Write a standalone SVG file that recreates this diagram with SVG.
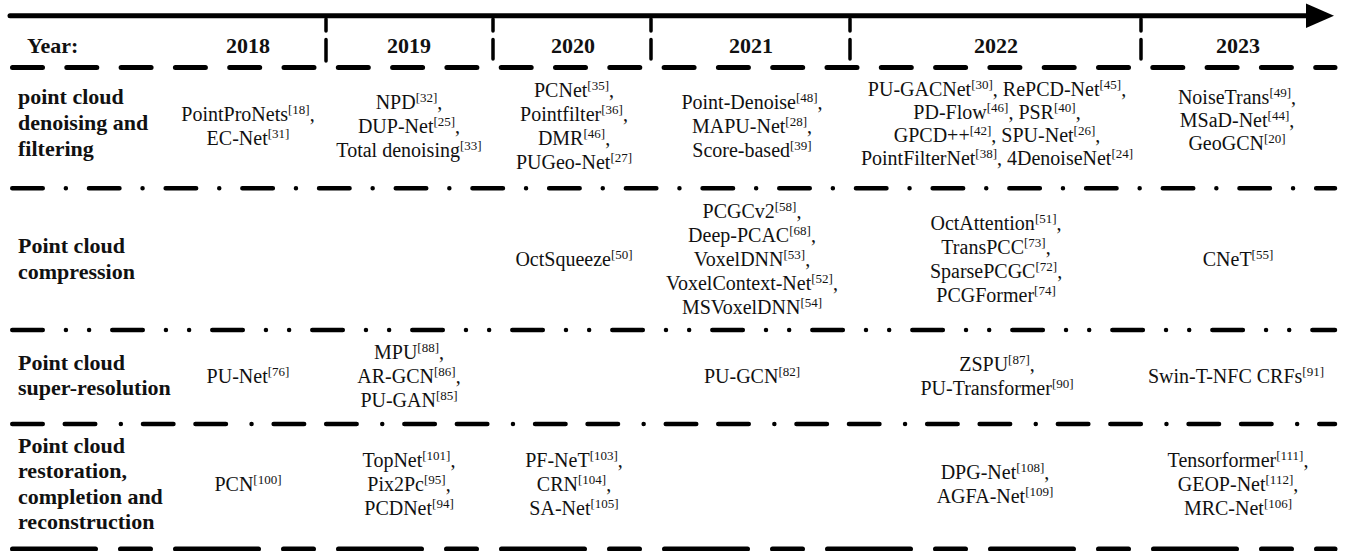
<svg xmlns="http://www.w3.org/2000/svg" width="1345" height="551" viewBox="0 0 1345 551">
<style>
.t{font-family:"Liberation Serif","Times New Roman",serif;font-size:20px;text-anchor:middle;fill:#111}
.b{font-family:"Liberation Serif","Times New Roman",serif;font-size:22px;font-weight:bold;fill:#111}
.y{text-anchor:middle}
.s{font-size:13px}
.ln{fill:none;stroke:#000;stroke-linecap:round}
</style>
<rect width="1345" height="551" fill="#fff"/>
<g id="grid">
<path class="ln" d="M10 15.8 H1310" stroke-width="5"/>
<polygon points="1306,3.5 1334,15.8 1306,28" fill="#000"/>
<g stroke-width="3.5" class="ln">
<path class="ln" d="M326 19 V31 M326 39.5 V61"/>
<path class="ln" d="M493 19 V31 M493 39.5 V59"/>
<path class="ln" d="M651 19 V31 M651 39.5 V59"/>
<path class="ln" d="M850 19 V31 M850 39.5 V59"/>
<path class="ln" d="M1141 19 V31 M1141 39.5 V59"/>
</g>
<path class="ln" d="M12.5 67.5 H1335" stroke-width="5" stroke-dasharray="30 24.3"/>
<path class="ln" d="M12.25 188.3 H1335" stroke-width="4.5" stroke-dasharray="30.5 23.1 0 23.1"/>
<path class="ln" d="M12.25 330 H1335" stroke-width="4.5" stroke-dasharray="30.5 23.17 0 23.17 0 23.17"/>
<path class="ln" d="M12.25 424 H1335" stroke-width="4.5" stroke-dasharray="30.5 22 30.5 25.6 0 22.1"/>
<path class="ln" d="M12.5 549 H1335" stroke-width="5" stroke-dasharray="83 25 30 25"/>
</g>
<g id="header">
<text class="b" x="27" y="53">Year:</text>
<text class="b y" x="248" y="53">2018</text>
<text class="b y" x="409" y="53">2019</text>
<text class="b y" x="573" y="53">2020</text>
<text class="b y" x="751" y="53">2021</text>
<text class="b y" x="996" y="53">2022</text>
<text class="b y" x="1238" y="53">2023</text>
</g>
<g id="label-denoising">
<text class="b" x="18" y="104">point cloud</text>
<text class="b" x="18" y="130">denoising and</text>
<text class="b" x="18" y="156">filtering</text>
</g>
<g id="label-compression">
<text class="b" x="18" y="253">Point cloud</text>
<text class="b" x="18" y="279">compression</text>
</g>
<g id="label-superres">
<text class="b" x="18" y="370">Point cloud</text>
<text class="b" x="18" y="395">super-resolution</text>
</g>
<g id="label-restoration">
<text class="b" x="18" y="453">Point cloud</text>
<text class="b" x="18" y="478">restoration,</text>
<text class="b" x="18" y="504">completion and</text>
<text class="b" x="18" y="529">reconstruction</text>
</g>
<g id="den-2018">
<text class="t" x="248" y="121">PointProNets<tspan class="s" dy="-7">[18]</tspan><tspan dy="7">,</tspan></text>
<text class="t" x="248" y="145">EC-Net<tspan class="s" dy="-7">[31]</tspan></text>
</g>
<g id="den-2019">
<text class="t" x="409" y="109">NPD<tspan class="s" dy="-7">[32]</tspan><tspan dy="7">,</tspan></text>
<text class="t" x="409" y="133">DUP-Net<tspan class="s" dy="-7">[25]</tspan><tspan dy="7">,</tspan></text>
<text class="t" x="409" y="157">Total denoising<tspan class="s" dy="-7">[33]</tspan></text>
</g>
<g id="den-2020">
<text class="t" x="574" y="97">PCNet<tspan class="s" dy="-7">[35]</tspan><tspan dy="7">,</tspan></text>
<text class="t" x="574" y="121">Pointfilter<tspan class="s" dy="-7">[36]</tspan><tspan dy="7">,</tspan></text>
<text class="t" x="574" y="145">DMR<tspan class="s" dy="-7">[46]</tspan><tspan dy="7">,</tspan></text>
<text class="t" x="574" y="169">PUGeo-Net<tspan class="s" dy="-7">[27]</tspan></text>
</g>
<g id="den-2021">
<text class="t" x="752" y="109">Point-Denoise<tspan class="s" dy="-7">[48]</tspan><tspan dy="7">,</tspan></text>
<text class="t" x="752" y="133">MAPU-Net<tspan class="s" dy="-7">[28]</tspan><tspan dy="7">,</tspan></text>
<text class="t" x="752" y="157">Score-based<tspan class="s" dy="-7">[39]</tspan></text>
</g>
<g id="den-2022">
<text class="t" x="997" y="96">PU-GACNet<tspan class="s" dy="-7">[30]</tspan><tspan dy="7">, RePCD-Net</tspan><tspan class="s" dy="-7">[45]</tspan><tspan dy="7">,</tspan></text>
<text class="t" x="997" y="119">PD-Flow<tspan class="s" dy="-7">[46]</tspan><tspan dy="7">, PSR</tspan><tspan class="s" dy="-7">[40]</tspan><tspan dy="7">,</tspan></text>
<text class="t" x="997" y="142">GPCD++<tspan class="s" dy="-7">[42]</tspan><tspan dy="7">, SPU-Net</tspan><tspan class="s" dy="-7">[26]</tspan><tspan dy="7">,</tspan></text>
<text class="t" x="997" y="165">PointFilterNet<tspan class="s" dy="-7">[38]</tspan><tspan dy="7">, 4DenoiseNet</tspan><tspan class="s" dy="-7">[24]</tspan></text>
</g>
<g id="den-2023">
<text class="t" x="1237" y="104">NoiseTrans<tspan class="s" dy="-7">[49]</tspan><tspan dy="7">,</tspan></text>
<text class="t" x="1237" y="127">MSaD-Net<tspan class="s" dy="-7">[44]</tspan><tspan dy="7">,</tspan></text>
<text class="t" x="1237" y="150">GeoGCN<tspan class="s" dy="-7">[20]</tspan></text>
</g>
<g id="com-2020">
<text class="t" x="574" y="266">OctSqueeze<tspan class="s" dy="-7">[50]</tspan></text>
</g>
<g id="com-2021">
<text class="t" x="752" y="218">PCGCv2<tspan class="s" dy="-7">[58]</tspan><tspan dy="7">,</tspan></text>
<text class="t" x="752" y="242">Deep-PCAC<tspan class="s" dy="-7">[68]</tspan><tspan dy="7">,</tspan></text>
<text class="t" x="752" y="266">VoxelDNN<tspan class="s" dy="-7">[53]</tspan><tspan dy="7">,</tspan></text>
<text class="t" x="752" y="290">VoxelContext-Net<tspan class="s" dy="-7">[52]</tspan><tspan dy="7">,</tspan></text>
<text class="t" x="752" y="314">MSVoxelDNN<tspan class="s" dy="-7">[54]</tspan></text>
</g>
<g id="com-2022">
<text class="t" x="996" y="230">OctAttention<tspan class="s" dy="-7">[51]</tspan><tspan dy="7">,</tspan></text>
<text class="t" x="996" y="254">TransPCC<tspan class="s" dy="-7">[73]</tspan><tspan dy="7">,</tspan></text>
<text class="t" x="996" y="278">SparsePCGC<tspan class="s" dy="-7">[72]</tspan><tspan dy="7">,</tspan></text>
<text class="t" x="996" y="302">PCGFormer<tspan class="s" dy="-7">[74]</tspan></text>
</g>
<g id="com-2023">
<text class="t" x="1238" y="266">CNeT<tspan class="s" dy="-7">[55]</tspan></text>
</g>
<g id="sr-2018">
<text class="t" x="248" y="383">PU-Net<tspan class="s" dy="-7">[76]</tspan></text>
</g>
<g id="sr-2019">
<text class="t" x="409" y="359">MPU<tspan class="s" dy="-7">[88]</tspan><tspan dy="7">,</tspan></text>
<text class="t" x="409" y="383">AR-GCN<tspan class="s" dy="-7">[86]</tspan><tspan dy="7">,</tspan></text>
<text class="t" x="409" y="407">PU-GAN<tspan class="s" dy="-7">[85]</tspan></text>
</g>
<g id="sr-2021">
<text class="t" x="752" y="383">PU-GCN<tspan class="s" dy="-7">[82]</tspan></text>
</g>
<g id="sr-2022">
<text class="t" x="997" y="371">ZSPU<tspan class="s" dy="-7">[87]</tspan><tspan dy="7">,</tspan></text>
<text class="t" x="997" y="395">PU-Transformer<tspan class="s" dy="-7">[90]</tspan></text>
</g>
<g id="sr-2023">
<text class="t" x="1236" y="383">Swin-T-NFC CRFs<tspan class="s" dy="-7">[91]</tspan></text>
</g>
<g id="rec-2018">
<text class="t" x="248" y="491">PCN<tspan class="s" dy="-7">[100]</tspan></text>
</g>
<g id="rec-2019">
<text class="t" x="409" y="467">TopNet<tspan class="s" dy="-7">[101]</tspan><tspan dy="7">,</tspan></text>
<text class="t" x="409" y="491">Pix2Pc<tspan class="s" dy="-7">[95]</tspan><tspan dy="7">,</tspan></text>
<text class="t" x="409" y="515">PCDNet<tspan class="s" dy="-7">[94]</tspan></text>
</g>
<g id="rec-2020">
<text class="t" x="574" y="467">PF-NeT<tspan class="s" dy="-7">[103]</tspan><tspan dy="7">,</tspan></text>
<text class="t" x="574" y="491">CRN<tspan class="s" dy="-7">[104]</tspan><tspan dy="7">,</tspan></text>
<text class="t" x="574" y="515">SA-Net<tspan class="s" dy="-7">[105]</tspan></text>
</g>
<g id="rec-2022">
<text class="t" x="995" y="479">DPG-Net<tspan class="s" dy="-7">[108]</tspan><tspan dy="7">,</tspan></text>
<text class="t" x="995" y="503">AGFA-Net<tspan class="s" dy="-7">[109]</tspan></text>
</g>
<g id="rec-2023">
<text class="t" x="1238" y="467">Tensorformer<tspan class="s" dy="-7">[111]</tspan><tspan dy="7">,</tspan></text>
<text class="t" x="1238" y="491">GEOP-Net<tspan class="s" dy="-7">[112]</tspan><tspan dy="7">,</tspan></text>
<text class="t" x="1238" y="515">MRC-Net<tspan class="s" dy="-7">[106]</tspan></text>
</g>
</svg>
